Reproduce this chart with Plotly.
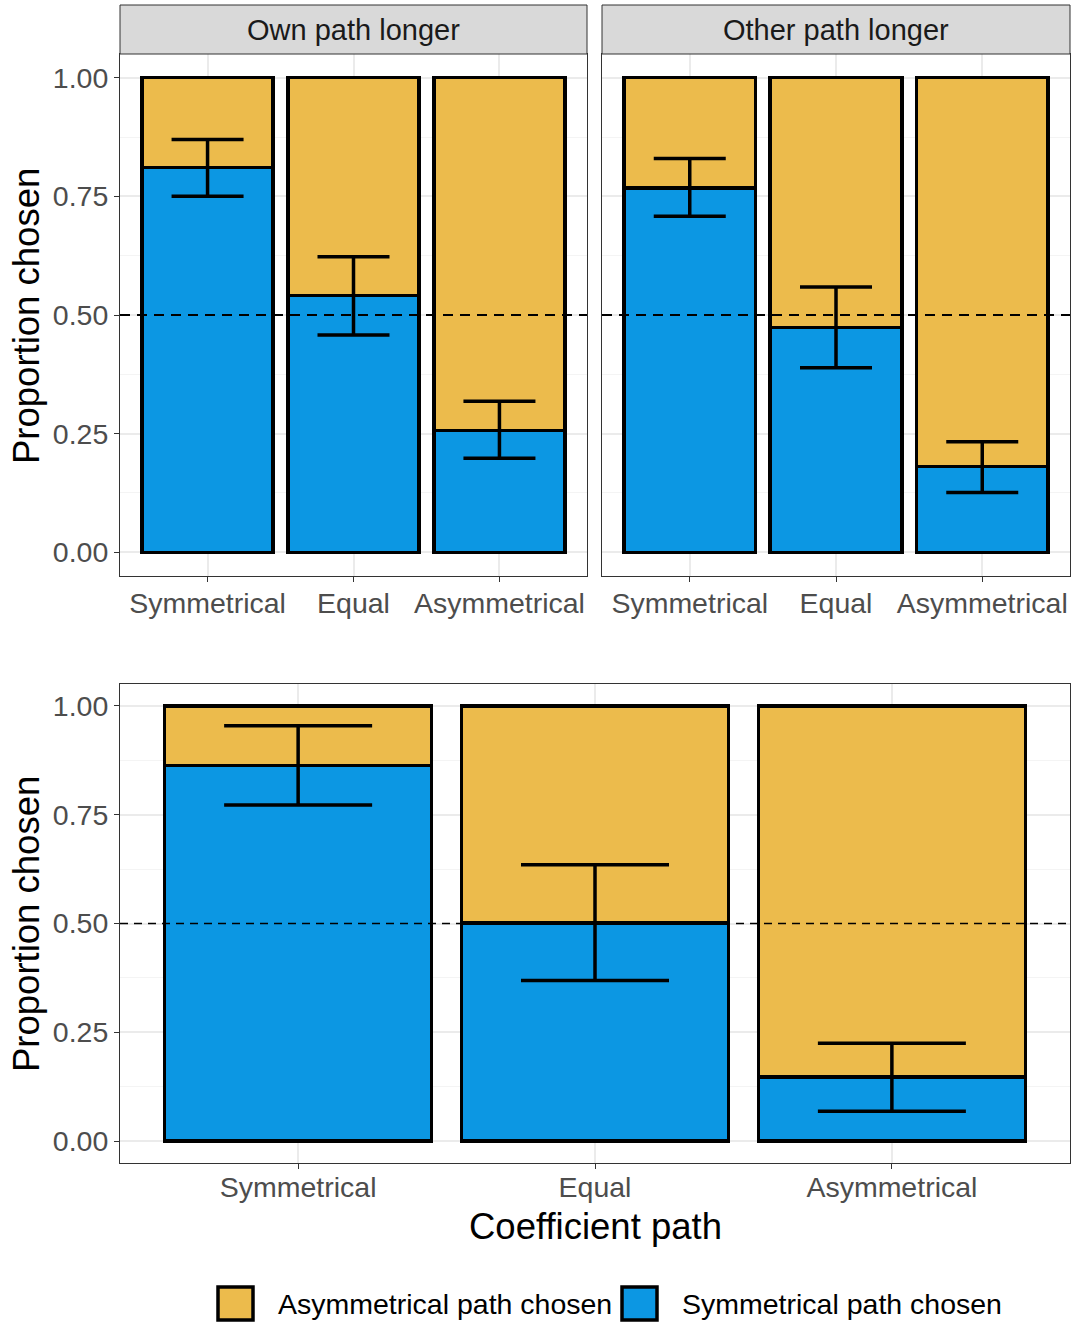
import plotly.graph_objects as go

W, H = 1071, 1323

categories = ["Symmetrical", "Equal", "Asymmetrical"]
panel_titles = ["Own path longer", "Other path longer"]
legend_labels = ["Asymmetrical path chosen", "Symmetrical path chosen"]
y_ticks = [0, 0.25, 0.5, 0.75, 1.0]
y_ticktext = ["0.00", "0.25", "0.50", "0.75", "1.00"]

# proportion choosing the symmetrical path, with CI
sym_own = [0.811, 0.541, 0.257]
sym_own_lo = [0.750, 0.458, 0.198]
sym_own_hi = [0.870, 0.623, 0.318]

sym_other = [0.768, 0.474, 0.181]
sym_other_lo = [0.708, 0.389, 0.126]
sym_other_hi = [0.830, 0.559, 0.233]

sym_all = [0.863, 0.501, 0.147]
sym_all_lo = [0.772, 0.369, 0.069]
sym_all_hi = [0.954, 0.635, 0.225]

BLUE = "#0C97E3"
YELLOW = "#ECBB4C"
FONT = "Liberation Sans, Arial, sans-serif"
TICK_SIZE = 28.5


def px(x):
    return x / W


def py(y):
    return 1 - y / H


fig = go.Figure()

panels = [
    ("x", "y", sym_own, sym_own_lo, sym_own_hi, 36),
    ("x2", "y2", sym_other, sym_other_lo, sym_other_hi, 36),
    ("x3", "y3", sym_all, sym_all_lo, sym_all_hi, 74),
]

for xa, ya, vals, lo, hi, capw in panels:
    asym = [1 - v for v in vals]
    fig.add_trace(go.Bar(x=categories, y=vals, xaxis=xa, yaxis=ya,
                         marker=dict(color=BLUE, line=dict(color="black", width=3.5)),
                         showlegend=False, hoverinfo="skip"))
    fig.add_trace(go.Bar(x=categories, y=asym, xaxis=xa, yaxis=ya,
                         marker=dict(color=YELLOW, line=dict(color="black", width=3.5)),
                         showlegend=False, hoverinfo="skip"))
    fig.add_trace(go.Scatter(x=categories, y=vals, xaxis=xa, yaxis=ya, mode="markers",
                             marker=dict(size=0.1, opacity=0),
                             error_y=dict(type="data", symmetric=False,
                                          array=[h - v for h, v in zip(hi, vals)],
                                          arrayminus=[v - l for v, l in zip(vals, lo)],
                                          color="black", thickness=3.5, width=capw),
                             showlegend=False, hoverinfo="skip"))

domains = {
    "1": ([px(120), px(587)], [py(576), py(54)]),
    "2": ([px(602), px(1070)], [py(576), py(54)]),
    "3": ([px(120), px(1070)], [py(1163), py(684)]),
}

axis_common_x = dict(type="category", range=[-0.6, 2.6], showgrid=True, gridcolor="#EBEBEB",
                     gridwidth=1.5, showline=True, mirror=True, linecolor="#333333", linewidth=1,
                     ticks="outside", ticklen=5, tickcolor="#333333", tickwidth=1,
                     ticklabelstandoff=-3,
                     tickfont=dict(family=FONT, size=TICK_SIZE, color="#4D4D4D"), zeroline=False,
                     fixedrange=True)
axis_common_y = dict(range=[-0.05, 1.05], tickvals=y_ticks, ticktext=y_ticktext,
                     showgrid=True, gridcolor="#EBEBEB", gridwidth=1.5,
                     minor=dict(tickvals=[0.125, 0.375, 0.625, 0.875], showgrid=True,
                                gridcolor="#F4F4F4", gridwidth=1, ticks=""),
                     showline=True, mirror=True, linecolor="#333333", linewidth=1,
                     ticks="outside", ticklen=5, tickcolor="#333333", tickwidth=1,
                     tickfont=dict(family=FONT, size=TICK_SIZE, color="#4D4D4D"), zeroline=False,
                     fixedrange=True)

for k, (xd, yd) in domains.items():
    xname = "xaxis" if k == "1" else "xaxis" + k
    yname = "yaxis" if k == "1" else "yaxis" + k
    xa = dict(axis_common_x, domain=xd, anchor="y" if k == "1" else "y" + k)
    ya = dict(axis_common_y, domain=yd, anchor="x" if k == "1" else "x" + k)
    if k == "2":
        ya["showticklabels"] = False
        ya["ticks"] = ""
    if k == "3":
        xa["ticklabelstandoff"] = -6
    fig.update_layout(**{xname: xa, yname: ya})

shapes = []
annotations = []

# facet strips
for (x0, x1), title in zip([(120, 587), (602, 1070)], panel_titles):
    shapes.append(dict(type="rect", xref="paper", yref="paper", x0=px(x0), x1=px(x1),
                       y0=py(54), y1=py(5), fillcolor="#D9D9D9",
                       line=dict(color="#333333", width=1), layer="above"))
    annotations.append(dict(xref="paper", yref="paper", x=px((x0 + x1) / 2), y=py(30),
                            text=title, showarrow=False, xanchor="center", yanchor="middle",
                            font=dict(family=FONT, size=29, color="#1A1A1A")))

# reference line at 0.5
for xr, yr, wd, dash in [("x domain", "y", 2.2, "10px,7px"), ("x2 domain", "y2", 2.2, "10px,7px"),
                         ("x3 domain", "y3", 1.6, "8px,6px")]:
    shapes.append(dict(type="line", xref=xr, yref=yr, x0=0, x1=1, y0=0.5, y1=0.5,
                       line=dict(color="black", width=wd, dash=dash), layer="above"))

# axis titles
for yc in [316, 924]:
    annotations.append(dict(xref="paper", yref="paper", x=px(26), y=py(yc),
                            text="Proportion chosen", showarrow=False, textangle=-90,
                            xanchor="center", yanchor="middle",
                            font=dict(family=FONT, size=36.5, color="black")))
annotations.append(dict(xref="paper", yref="paper", x=px(595), y=py(1226),
                        text="Coefficient path", showarrow=False,
                        xanchor="center", yanchor="middle",
                        font=dict(family=FONT, size=36.5, color="black")))

# legend (manual keys)
for (kx, tx), col, lab in zip([(218, 276), (622, 680)], [YELLOW, BLUE], legend_labels):
    shapes.append(dict(type="rect", xref="paper", yref="paper", x0=px(kx), x1=px(kx + 35),
                       y0=py(1320), y1=py(1287), fillcolor=col,
                       line=dict(color="black", width=3.5)))
    annotations.append(dict(xref="paper", yref="paper", x=px(tx), y=py(1304),
                            text=lab, showarrow=False, xanchor="left", yanchor="middle",
                            font=dict(family=FONT, size=28.5, color="black")))

fig.update_layout(width=W, height=H, autosize=False,
                  margin=dict(l=0, r=0, t=0, b=0),
                  paper_bgcolor="white", plot_bgcolor="white",
                  barmode="stack", bargap=0.1,
                  shapes=shapes, annotations=annotations,
                  font=dict(family=FONT))

fig.write_html("out.html", config={"displayModeBar": False},
               post_script="document.body.style.margin='0';document.body.style.overflow='hidden';")
